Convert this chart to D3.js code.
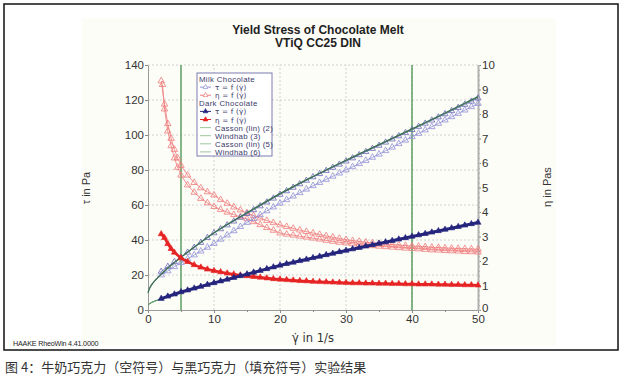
<!DOCTYPE html>
<html><head><meta charset="utf-8">
<script src="https://cdn.jsdelivr.net/npm/d3@7"></script>
<style>body{margin:0;background:#fff}svg{display:block}</style>
</head><body>
<script>
// ---- data ----
const title1 = "Yield Stress of Chocolate Melt";
const title2 = "VTiQ CC25 DIN";
const xTicks = [0,10,20,30,40,50];
const yLeftTicks = [0,20,40,60,80,100,120,140];
const yRightTicks = [0,1,2,3,4,5,6,7,8,9,10];
const markerLines = [5,40];

const tauX = [2,3,4,5,6,7,8,9,10,11,12,13,14,15,16,17,18,19,20,21,22,23,24,25,26,27,28,29,30,31,32,33,34,35,36,37,38,39,40,41,42,43,44,45,46,47,48,49,50];
const milkTauUp = [22.0,24.8,27.5,30.0,32.9,35.7,38.5,41.3,44.0,46.3,48.5,50.7,52.9,55.0,57.2,59.4,61.6,63.8,66.0,68.0,70.0,72.0,74.0,76.0,77.8,79.6,81.4,83.2,85.0,86.8,88.6,90.4,92.2,94.0,95.8,97.6,99.4,101.2,103.0,104.8,106.6,108.4,110.2,112.0,113.8,115.6,117.4,119.2,121.0];
const milkTauDown = [20.0,22.3,24.7,27.0,29.2,31.4,33.6,35.8,38.0,40.4,42.8,45.2,47.6,50.0,52.2,54.4,56.6,58.8,61.0,63.0,65.0,67.0,69.0,71.0,72.8,74.6,76.4,78.2,80.0,81.8,83.6,85.4,87.2,89.0,91.0,93.0,95.0,97.0,99.0,100.9,102.8,104.7,106.6,108.5,110.4,112.3,114.2,116.1,118.0];
const darkTau = [6.5,7.8,9.0,10.3,11.3,12.4,13.4,14.5,15.5,16.5,17.5,18.5,19.5,20.5,21.5,22.5,23.5,24.5,25.5,26.4,27.2,28.1,28.9,29.8,30.6,31.5,32.3,33.2,34.0,34.8,35.6,36.4,37.2,38.0,38.8,39.6,40.4,41.2,42.0,42.8,43.6,44.4,45.2,46.0,46.8,47.6,48.4,49.2,50.0];

const fitX = [0,0.25,0.5,1,1.5,2,3,4,5,7,10,15,20,25,30,35,40,45,50];
const milkCasson = [10.0,12.6,14.2,16.6,18.6,20.5,24.0,27.2,30.2,36.0,44.2,55.6,66.5,76.3,85.6,94.5,103.5,112.6,122.0];
const milkWindhab = [9.6,12.2,13.9,16.4,18.4,20.3,23.8,27.0,30.0,35.8,44.0,55.4,66.3,76.2,85.5,94.4,103.3,112.4,121.6];
const darkCasson = [3.0,3.7,4.3,5.1,5.8,6.6,7.9,9.1,10.3,12.4,15.5,20.5,25.5,29.8,34.0,38.0,42.0,46.0,50.0];
const darkWindhab = [2.7,3.5,4.1,5.0,5.7,6.5,7.8,9.0,10.2,12.3,15.4,20.4,25.4,29.7,33.9,37.9,41.9,45.9,49.9];

const etaUpX = [2,2.5,3,3.5,4,4.5,5,6,7,8,9,10,11,12,13,14,15,16,17,18,19,20,21,22,23,24,25,26,27,28,29,30,31,32,33,34,35,36,37,38,39,40,41,42,43,44,45,46,47,48,49,50];
const milkEtaUp = [9.35,8.4,7.6,7.0,6.55,6.2,5.9,5.5,5.2,4.98,4.82,4.69,4.5,4.35,4.2,4.08,3.96,3.85,3.75,3.65,3.56,3.47,3.40,3.33,3.26,3.2,3.14,3.08,3.02,2.97,2.92,2.87,2.83,2.8,2.77,2.74,2.71,2.69,2.67,2.65,2.63,2.61,2.6,2.58,2.56,2.55,2.53,2.52,2.51,2.5,2.49,2.48];
const etaDownX = [2.2,2.5,3,3.5,4,4.5,5,6,7,8,9,10,11,12,13,14,15,16,17,18,19,20,21,22,23,24,25,26,27,28,29,30,31,32,33,34,35,36,37,38,39,40,41,42,43,44,45,46,47,48,49,50];
const milkEtaDown = [9.2,8.2,7.3,6.7,6.2,5.82,5.5,5.1,4.8,4.55,4.37,4.22,4.1,3.99,3.89,3.8,3.72,3.6,3.48,3.36,3.25,3.14,3.09,3.05,3.01,2.97,2.93,2.89,2.84,2.8,2.76,2.73,2.7,2.67,2.64,2.62,2.6,2.58,2.56,2.54,2.52,2.51,2.49,2.47,2.45,2.44,2.42,2.41,2.4,2.38,2.37,2.36];
const darkEtaX = [2,2.5,3,3.5,4,5,6,7,8,9,10,11,12,13,14,15,16,17,18,19,20,21,22,23,24,25,26,27,28,29,30,31,32,33,34,35,36,37,38,39,40,41,42,43,44,45,46,47,48,49,50];
const darkEta = [3.1,2.95,2.7,2.5,2.35,2.12,1.97,1.84,1.74,1.66,1.6,1.55,1.5,1.46,1.42,1.39,1.36,1.33,1.3,1.27,1.25,1.23,1.21,1.19,1.18,1.16,1.15,1.14,1.13,1.12,1.11,1.1,1.1,1.09,1.09,1.08,1.08,1.07,1.07,1.06,1.06,1.05,1.05,1.05,1.04,1.04,1.03,1.03,1.02,1.02,1.01];

const legendItems = [
  {label:"Milk Chocolate", type:"head"},
  {label:"τ = f (γ̇)", type:"hollow", color:"#8f8fd6"},
  {label:"η = f (γ̇)", type:"hollow", color:"#ef7a7a"},
  {label:"Dark Chocolate", type:"head"},
  {label:"τ = f (γ̇)", type:"filled", color:"#25257e"},
  {label:"η = f (γ̇)", type:"filled", color:"#e62424"},
  {label:"Casson (lin) (2)", type:"line", color:"#9cc79c"},
  {label:"Windhab (3)", type:"line", color:"#9cc79c"},
  {label:"Casson (lin) (5)", type:"line", color:"#9cc79c"},
  {label:"Windhab (6)", type:"line", color:"#9cc79c"}
];

// ---- chart ----
const W = 632, H = 382;
const FONT = "'Liberation Sans', Arial, sans-serif";
const svg = d3.select("body").append("svg").attr("width", W).attr("height", H)
  .style("font-family", FONT);

svg.append("rect").attr("x",82).attr("y",18).attr("width",474).attr("height",328).attr("fill","#fdfdf8");
svg.append("rect").attr("x",4).attr("y",4).attr("width",614).attr("height",346)
  .attr("fill","none").attr("stroke","#111").attr("stroke-width",1.5);

const x = d3.scaleLinear().domain([0,50]).range([148,478]);
const yL = d3.scaleLinear().domain([0,140]).range([310,65]);
const yR = d3.scaleLinear().domain([0,10]).range([310,65]);

// grid
const grid = svg.append("g").attr("stroke","#c4c4c4").attr("stroke-dasharray","2,2").attr("stroke-width",0.8);
xTicks.filter(v=>v>0&&v<50).forEach(v=>grid.append("line").attr("x1",x(v)).attr("x2",x(v)).attr("y1",yL(0)).attr("y2",yL(140)));
yLeftTicks.filter(v=>v>0).forEach(v=>grid.append("line").attr("x1",x(0)).attr("x2",x(50)).attr("y1",yL(v)).attr("y2",yL(v)));

// vertical green markers
markerLines.forEach(v=>svg.append("line").attr("x1",x(v)).attr("x2",x(v)).attr("y1",yL(0)).attr("y2",yL(140))
  .attr("stroke","#5d9e62").attr("stroke-width",1.5));

// axes
function styleAxis(g){
  g.select(".domain").attr("stroke","#9a9a9a");
  g.selectAll(".tick line").attr("stroke","#8a8a8a");
  g.selectAll(".tick text").attr("fill","#333").style("font-size","11.5px").style("font-family",FONT);
}
const gx = svg.append("g").attr("transform",`translate(0,${yL(0)})`)
  .call(d3.axisBottom(x).tickValues(xTicks).tickSize(3).tickPadding(1.5).tickSizeOuter(0));
styleAxis(gx);
svg.append("g").attr("transform",`translate(0,${yL(0)})`)
  .call(d3.axisBottom(x).tickValues([5,15,25,35,45]).tickSize(2).tickFormat("").tickSizeOuter(0))
  .call(g=>{g.select(".domain").remove();g.selectAll("line").attr("stroke","#8a8a8a");});
const gl = svg.append("g").attr("transform",`translate(${x(0)},0)`)
  .call(d3.axisLeft(yL).tickValues(yLeftTicks).tickSize(3).tickPadding(1).tickSizeOuter(0));
styleAxis(gl);
const gr = svg.append("g").attr("transform",`translate(${x(50)},0)`)
  .call(d3.axisRight(yR).tickValues(yRightTicks).tickSize(3).tickPadding(1).tickSizeOuter(0));
styleAxis(gr);
gr.select(".domain").attr("stroke-width",2).attr("stroke","#b0b0b0");
gr.selectAll(".tick").filter(d=>d===0).select("text").attr("dy","0.1em");
svg.append("g").attr("transform",`translate(${x(50)},0)`)
  .call(d3.axisRight(yR).tickValues(d3.range(0,10.01,0.2)).tickSize(2).tickFormat("").tickSizeOuter(0))
  .call(g=>{g.select(".domain").remove();g.selectAll("line").attr("stroke","#b0b0b0");});

// titles
svg.append("text").attr("x",318).attr("y",34).attr("text-anchor","middle").attr("fill","#222")
  .style("font-size","12px").style("font-weight","bold").text(title1);
svg.append("text").attr("x",318).attr("y",47).attr("text-anchor","middle").attr("fill","#222")
  .style("font-size","12px").style("font-weight","bold").text(title2);
svg.append("text").attr("transform","translate(90,188) rotate(-90)").attr("text-anchor","middle").attr("fill","#333")
  .style("font-size","11px").text("τ in Pa");
svg.append("text").attr("transform","translate(551,187) rotate(-90)").attr("text-anchor","middle").attr("fill","#333")
  .style("font-size","11px").text("η in Pas");
svg.append("text").attr("x",313).attr("y",342).attr("text-anchor","middle").attr("fill","#333")
  .style("font-size","11.5px").style("font-family","'DejaVu Sans', sans-serif").text("γ̇ in 1/s");
svg.append("text").attr("x",13).attr("y",346).attr("fill","#222")
  .style("font-size","7.2px").style("letter-spacing","-0.2px").text("HAAKE RheoWin 4.41.0000");
svg.append("text").attr("x",5).attr("y",372).attr("fill","#333")
  .style("font-family","'Noto Sans CJK SC', sans-serif").style("font-size","13px")
  .text("图 4：牛奶巧克力（空符号）与黑巧克力（填充符号）实验结果");

// series
function series(xs, ys, yScale, color, filled, lineW, size){
  const tri = d3.symbol().type(d3.symbolTriangle).size(size);
  const pts = xs.map((v,i)=>[x(v), yScale(ys[i])]);
  const g = svg.append("g");
  g.append("path").attr("d", d3.line()(pts)).attr("fill","none").attr("stroke",color).attr("stroke-width",lineW);
  g.selectAll("path.m").data(pts).join("path").attr("class","m").attr("d",tri)
    .attr("transform",d=>`translate(${d[0]},${d[1]})`)
    .attr("fill",filled?color:"none").attr("stroke",color).attr("stroke-width",filled?0.6:0.8);
}
function fit(xs, ys, color, w){
  const pts = xs.map((v,i)=>[x(v), yL(ys[i])]);
  svg.append("path").attr("d", d3.line().curve(d3.curveMonotoneX)(pts)).attr("fill","none").attr("stroke",color).attr("stroke-width",w);
}

series(etaUpX, milkEtaUp, yR, "#ef7a7a", false, 0.8, 18);
series(etaDownX, milkEtaDown, yR, "#ef7a7a", false, 0.8, 18);
series(tauX, milkTauDown, yL, "#9191d8", false, 0.8, 18);
series(tauX, milkTauUp, yL, "#6a6ab8", false, 0.8, 16);
fit(fitX, milkWindhab, "#4d8f5a", 1);
fit(fitX, milkCasson, "#3e6e56", 1.2);
fit(fitX, darkWindhab, "#5b9a65", 1);
fit(fitX, darkCasson, "#4d8f5a", 1);
series(darkEtaX, darkEta, yR, "#e62424", true, 2.6, 16);
series(tauX, darkTau, yL, "#25257e", true, 3, 16);

// legend
const lg = svg.append("g").attr("transform","translate(197,73)");
lg.append("rect").attr("width",75).attr("height",83).attr("fill","#fff").attr("stroke","#7c7cb0").attr("stroke-width",1);
legendItems.forEach((d,i)=>{
  const yy = 6 + i*8.1;
  const isSym = d.label.includes("γ̇");
  if(d.type==="head"){
    lg.append("text").attr("x",2).attr("y",yy+3).attr("fill","#3a3a68").style("font-size","7.8px")
      .style("letter-spacing","0.35px").text(d.label);
  } else {
    lg.append("line").attr("x1",3).attr("x2",14).attr("y1",yy).attr("y2",yy).attr("stroke",d.color).attr("stroke-width",1);
    if(d.type!=="line"){
      lg.append("path").attr("d",d3.symbol().type(d3.symbolTriangle).size(10)).attr("transform",`translate(8.5,${yy})`)
        .attr("fill",d.type==="filled"?d.color:"#fff").attr("stroke",d.color).attr("stroke-width",0.7);
    }
    lg.append("text").attr("x",18).attr("y",yy+3).attr("fill","#3a3a68")
      .style("font-size", isSym ? "7.2px" : "7.8px")
      .style("letter-spacing", isSym ? "0.2px" : "0.3px")
      .style("font-family", isSym ? "'DejaVu Sans', sans-serif" : FONT).text(d.label);
  }
});
</script>
</body></html>
